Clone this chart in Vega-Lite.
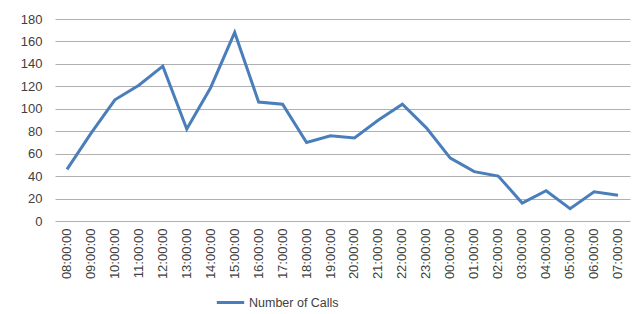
{
  "$schema": "https://vega.github.io/schema/vega-lite/v6.json",
  "width": 575,
  "height": 202,
  "autosize": {"type": "none"},
  "padding": {"left": 55, "top": 19, "right": 11, "bottom": 93},
  "background": "white",
  "config": {"view": {"stroke": null}, "font": "Liberation Sans"},
  "data": {"values": [
    {"time": "08:00:00", "calls": 46},
    {"time": "09:00:00", "calls": 78},
    {"time": "10:00:00", "calls": 108},
    {"time": "11:00:00", "calls": 121},
    {"time": "12:00:00", "calls": 138},
    {"time": "13:00:00", "calls": 82},
    {"time": "14:00:00", "calls": 119},
    {"time": "15:00:00", "calls": 168},
    {"time": "16:00:00", "calls": 106},
    {"time": "17:00:00", "calls": 104},
    {"time": "18:00:00", "calls": 70},
    {"time": "19:00:00", "calls": 76},
    {"time": "20:00:00", "calls": 74},
    {"time": "21:00:00", "calls": 90},
    {"time": "22:00:00", "calls": 104},
    {"time": "23:00:00", "calls": 83},
    {"time": "00:00:00", "calls": 56},
    {"time": "01:00:00", "calls": 44},
    {"time": "02:00:00", "calls": 40},
    {"time": "03:00:00", "calls": 16},
    {"time": "04:00:00", "calls": 27},
    {"time": "05:00:00", "calls": 11},
    {"time": "06:00:00", "calls": 26},
    {"time": "07:00:00", "calls": 23}
  ]},
  "mark": {"type": "line", "color": "#4a7ebb", "strokeWidth": 3, "strokeJoin": "miter"},
  "encoding": {
    "x": {
      "field": "time", "type": "ordinal", "sort": null,
      "scale": {"type": "band", "paddingInner": 0, "paddingOuter": 0},
      "axis": {
        "title": null, "labelAngle": -90, "labelAlign": "right", "labelBaseline": "middle",
        "labelFontSize": 13, "labelColor": "#404040", "labelPadding": 7,
        "ticks": false, "domain": false, "grid": false
      }
    },
    "y": {
      "field": "calls", "type": "quantitative",
      "scale": {"domain": [0, 180], "nice": false},
      "axis": {
        "title": null, "values": [0, 20, 40, 60, 80, 100, 120, 140, 160, 180],
        "labelFontSize": 13, "labelColor": "#404040", "labelPadding": 13,
        "ticks": false, "domain": false,
        "grid": true, "gridColor": "#b0b0b0", "gridWidth": 1.2
      }
    },
    "color": {
      "datum": "Number of Calls", "type": "nominal",
      "scale": {"range": ["#4a7ebb"]},
      "legend": {
        "title": null, "orient": "none", "legendX": 160, "legendY": 268,
        "symbolType": "stroke", "symbolSize": 750, "symbolStrokeWidth": 3,
        "labelFontSize": 12.5, "labelColor": "#404040", "labelOffset": 3
      }
    }
  }
}
